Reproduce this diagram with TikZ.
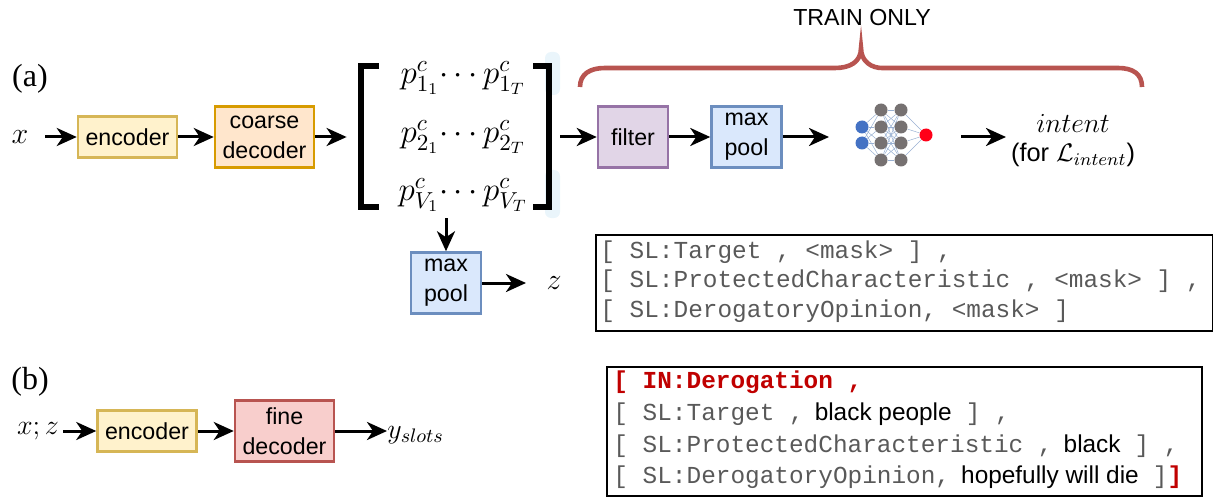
\RequirePackage{fix-cm}
\documentclass[tikz,border=0pt]{standalone}
\usepackage[no-math]{fontspec}
\setmainfont{Liberation Serif}
\setsansfont{Liberation Sans}
\setmonofont{Liberation Mono}
\usetikzlibrary{arrows.meta, backgrounds}
\definecolor{encfill}{HTML}{FFF2CC}
\definecolor{encline}{HTML}{D6B656}
\definecolor{coarsefill}{HTML}{FFE6CC}
\definecolor{coarseline}{HTML}{D79B00}
\definecolor{filterfill}{HTML}{E1D5E7}
\definecolor{filterline}{HTML}{9673A6}
\definecolor{poolfill}{HTML}{DAE8FC}
\definecolor{poolline}{HTML}{6C8EBF}
\definecolor{finefill}{HTML}{F8CECC}
\definecolor{fineline}{HTML}{B85450}
\definecolor{codegray}{HTML}{595959}
\definecolor{codered}{HTML}{C00000}
\definecolor{nnblue}{HTML}{4472C4}
\definecolor{nngray}{HTML}{767171}
\definecolor{nnred}{HTML}{FF0018}
\definecolor{smudge}{HTML}{EAF5FB}
\tikzset{
	block/.style={draw, line width=1.25pt, align=center, inner sep=0pt, font=\sffamily\fontsize{11.6}{15}\selectfont},
	encbox/.style={block, fill=encfill, draw=encline, minimum width=49.5pt, minimum height=20.5pt},
	coarsebox/.style={block, fill=coarsefill, draw=coarseline, minimum width=49.5pt, minimum height=30.5pt},
	filterbox/.style={block, fill=filterfill, draw=filterline, minimum width=35pt, minimum height=30.5pt},
	poolbox/.style={block, fill=poolfill, draw=poolline, minimum width=35pt, minimum height=30.5pt},
	finebox/.style={block, fill=finefill, draw=fineline, minimum width=49.5pt, minimum height=30.5pt},
	flow/.style={-{Stealth[length=10pt, width=9pt, inset=3pt]}, line width=1.5pt},
	bracket/.style={line width=3pt},
	codebox/.style={draw, line width=1pt, inner sep=0pt},
	codeline/.style={anchor=base west, inner sep=0pt, text=codegray, font=\ttfamily\fontsize{12.2}{14}\selectfont},
	plain/.style={inner sep=0pt},
	neuron/.style={circle, inner sep=0pt, minimum size=6.5pt},
	synapse/.style={poolline!70, line width=0.25pt}
}
\newcommand{\sanstxt}[1]{{\sffamily\fontsize{12.2}{14}\selectfont\color{black}#1}}
\begin{document}
\begin{tikzpicture}[x=0.5pt, y=-0.5pt]
	\useasboundingbox (0,0) rectangle (1213,497);

	\node [plain, font=\fontsize{16}{18}\selectfont] (labela) at (30,79) {(a)};
	\node [plain, font=\fontsize{16}{18}\selectfont] (labelb) at (30,382) {(b)};

	\node [plain, font=\fontsize{15}{17}\selectfont] (xa) at (20,137) {$x$};
	\node [encbox] (enca) at (127.5,137) {encoder};
	\node [coarsebox] (coarse) at (264.5,137) {coarse\\decoder};

	\fill [smudge, rounded corners=3pt] (545,52) rectangle (560,95);
	\fill [smudge, rounded corners=3pt] (545,170) rectangle (560,218);
	\node [minimum width=106.5pt, minimum height=81pt, inner sep=0pt] (mat) at (453.5,137) {};
	\draw [bracket] (379,66) -- (361,66) -- (361,207) -- (379,207);
	\draw [bracket] (533,66) -- (549,66) -- (549,207) -- (533,207);
	\begin{scope}[every node/.style={plain, font=\fontsize{16.5}{18}\selectfont}]
		\node (rowa) at (463,78) {$p^c_{1_1}\!\cdots p^c_{1_T}$};
		\node (rowb) at (463,137) {$p^c_{2_1}\!\cdots p^c_{2_T}$};
		\node (rowc) at (463,195) {$p^c_{V_1}\!\cdots p^c_{V_T}$};
	\end{scope}

	\node [filterbox] (filter) at (633,137) {filter};
	\node [poolbox] (poola) at (746.5,137) {max\\pool};
	\node [poolbox] (poolb) at (446,283) {max\\pool};
	\node [plain, font=\fontsize{15}{17}\selectfont] (z) at (554,283) {$z$};

	\coordinate (nnin) at (829,137);
	\coordinate (nnout) at (961,137);
	\foreach \i/\y in {1/127, 2/143}
		\node [neuron, fill=nnblue] (in\i) at (862,\y) {};
	\foreach \i/\y in {1/110, 2/127, 3/143, 4/160} {
		\node [neuron, fill=nngray] (ha\i) at (881,\y) {};
		\node [neuron, fill=nngray] (hb\i) at (901,\y) {};
	}
	\node [neuron, fill=nnred] (out) at (926,135) {};
	\begin{scope}[on background layer]
		\foreach \i in {1,2}
			\foreach \j in {1,2,3,4}
				\draw [synapse] (in\i) -- (ha\j);
		\foreach \i in {1,2,3,4} {
			\foreach \j in {1,2,3,4}
				\draw [synapse] (ha\i) -- (hb\j);
			\draw [synapse] (hb\i) -- (out);
		}
	\end{scope}

	\node [plain, font=\fontsize{13.8}{16}\selectfont] (intent) at (1073,123) {$intent$};
	\node [plain, font=\sffamily\fontsize{12.7}{15}\selectfont] (loss) at (1073,155) {(for $\mathcal{L}_{intent}$)};
	\coordinate (intentin) at (1006,137);
	\node [plain, font=\sffamily\fontsize{11.6}{14}\selectfont] (train) at (862,18) {TRAIN ONLY};

	\draw [fineline, line width=2.3pt] (580,87) .. controls (580,74) and (590,68) .. (605,68) -- (835,68)
		.. controls (850,68) and (861,62) .. (861,48) .. controls (861,62) and (872,68) .. (882,68) -- (1118,68)
		.. controls (1133,68) and (1142,74) .. (1142,87);

	\coordinate (xstart) at (45,137);
	\coordinate (zend) at (526,283);
	\draw [flow] (xstart) -- (enca);
	\draw [flow] (enca) -- (coarse);
	\draw [flow] (coarse) -- (mat);
	\draw [flow] (mat) -- (filter);
	\draw [flow] (filter) -- (poola);
	\draw [flow] (poola) -- (nnin);
	\draw [flow] (nnout) -- (intentin);
	\draw [flow] (mat.south -| poolb.north) -- (poolb.north);
	\draw [flow] (poolb) -- (zend);

	\node [codebox, minimum width=308.5pt, minimum height=48pt] (maskbox) at (904.5,283) {};
	\node [codeline] (maska) at (600,258) {[ SL:Target , <mask> ] ,};
	\node [codeline] (maskb) at (600,287) {[ SL:ProtectedCharacteristic , <mask> ] ,};
	\node [codeline] (maskc) at (600,317) {[ SL:DerogatoryOpinion, <mask> ]};

	\node [plain, font=\fontsize{14}{16}\selectfont] (xz) at (38,431) {$x;z$};
	\node [encbox] (encb) at (147,431) {encoder};
	\node [finebox] (fine) at (284.5,431) {fine\\decoder};
	\node [plain, font=\fontsize{14}{16}\selectfont, anchor=west] (slots) at (387,435) {$y_{slots}$};
	\coordinate (xzstart) at (63,431);
	\draw [flow] (xzstart) -- (encb);
	\draw [flow] (encb) -- (fine);
	\draw [flow] (fine) -- (slots.west |- fine);

	\node [codebox, minimum width=297.5pt, minimum height=64.5pt] (slotbox) at (904,431) {};
	\node [codeline, text=codered, font=\ttfamily\bfseries\fontsize{12.2}{14}\selectfont] (slota) at (613,388) {[ IN:Derogation ,};
	\node [codeline] (slotb) at (613,420) {[ SL:Target ,\hspace{5.5pt}\sanstxt{black people}\hspace{7pt}] ,};
	\node [codeline] (slotc) at (613,452) {[ SL:ProtectedCharacteristic ,\hspace{5.5pt}\sanstxt{black}\hspace{7pt}] ,};
	\node [codeline] (slotd) at (613,483) {[ SL:DerogatoryOpinion,\hspace{5.5pt}\sanstxt{hopefully will die}\hspace{7pt}]\textcolor{codered}{\bfseries ]}};
\end{tikzpicture}
\end{document}
